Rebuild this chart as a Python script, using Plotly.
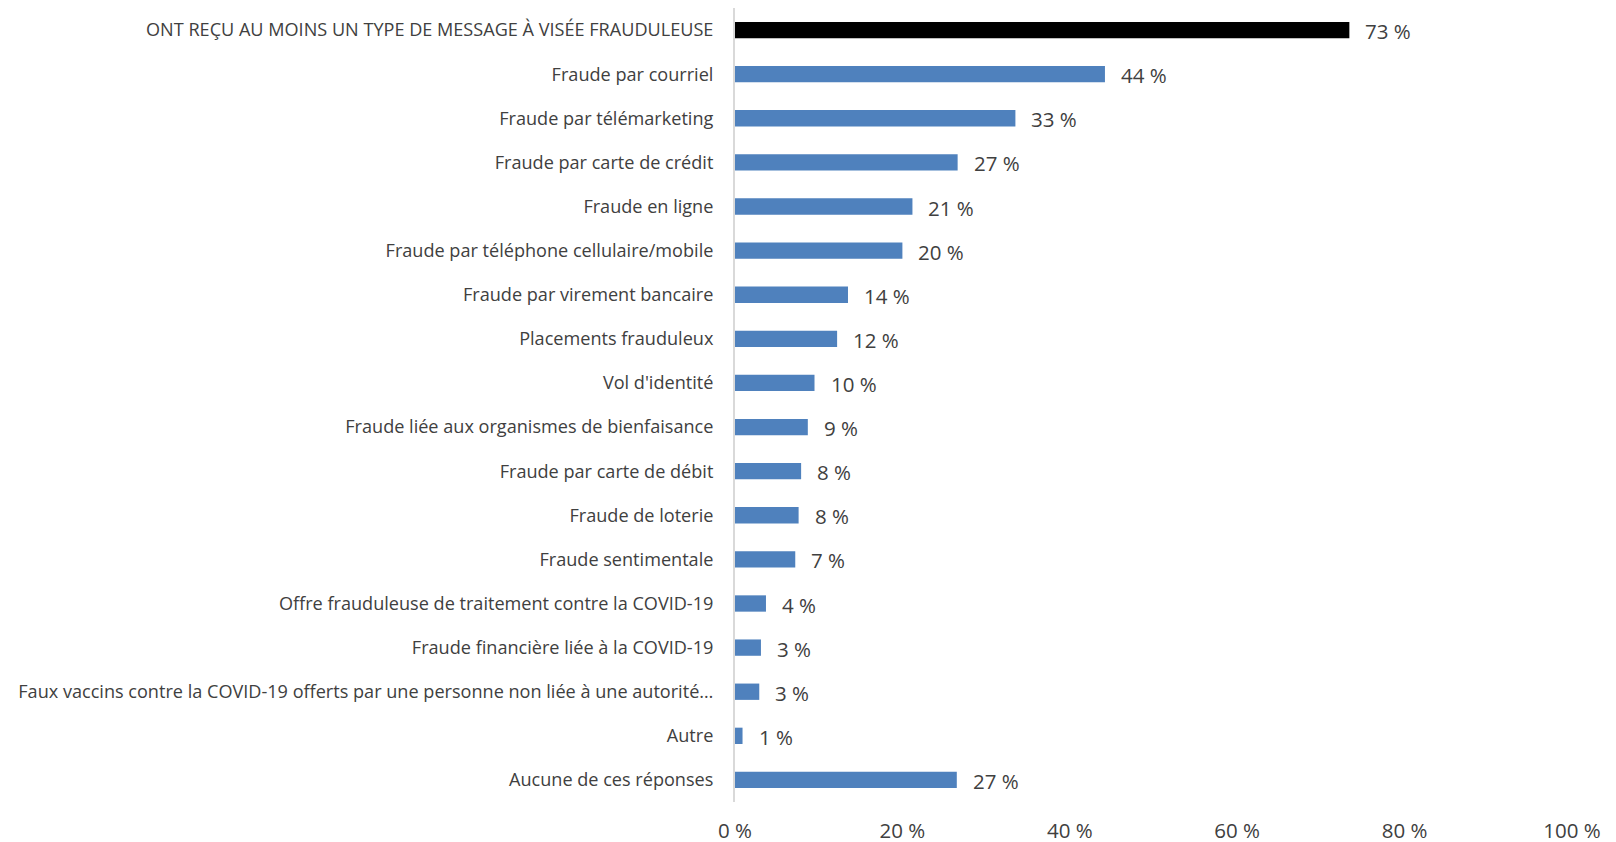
import plotly.graph_objects as go

categories = [
    "ONT REÇU AU MOINS UN TYPE DE MESSAGE À VISÉE FRAUDULEUSE",
    "Fraude par courriel",
    "Fraude par télémarketing",
    "Fraude par carte de crédit",
    "Fraude en ligne",
    "Fraude par téléphone cellulaire/mobile",
    "Fraude par virement bancaire",
    "Placements frauduleux",
    "Vol d'identité",
    "Fraude liée aux organismes de bienfaisance",
    "Fraude par carte de débit",
    "Fraude de loterie",
    "Fraude sentimentale",
    "Offre frauduleuse de traitement contre la COVID-19",
    "Fraude financière liée à la COVID-19",
    "Faux vaccins contre la COVID-19 offerts par une personne non liée à une autorité…",
    "Autre",
    "Aucune de ces réponses",
]
values = [73.4, 44.2, 33.5, 26.6, 21.2, 20.0, 13.5, 12.2, 9.5, 8.7, 7.9, 7.6, 7.2, 3.7, 3.1, 2.9, 0.9, 26.5]
labels = ["73 %", "44 %", "33 %", "27 %", "21 %", "20 %", "14 %", "12 %", "10 %", "9 %", "8 %", "8 %",
          "7 %", "4 %", "3 %", "3 %", "1 %", "27 %"]
tick_vals = [0, 20, 40, 60, 80, 100]
tick_text = ["0 %", "20 %", "40 %", "60 %", "80 %", "100 %"]

colors = ["#000000"] + ["#4F81BD"] * (len(categories) - 1)
text_color = "#404040"
font_family = "Open Sans"

fig = go.Figure()
fig.add_trace(go.Bar(
    x=values,
    y=categories,
    orientation="h",
    marker=dict(color=colors, line=dict(width=0)),
    hoverinfo="skip",
))

for v, c, t in zip(values, categories, labels):
    fig.add_annotation(
        x=v, y=c, text=t, xanchor="left", yanchor="middle",
        xshift=14, yshift=-1, showarrow=False,
        font=dict(family=font_family, size=20.5, color=text_color),
    )

fig.update_layout(
    width=1616, height=842,
    margin=dict(l=727, r=52, t=0, b=48),
    paper_bgcolor="white", plot_bgcolor="white",
    bargap=0.63,
    showlegend=False,
    font=dict(family=font_family, color=text_color),
)
fig.update_xaxes(
    range=[0, 100],
    tickvals=tick_vals, ticktext=tick_text,
    showgrid=False, zeroline=False, showline=False,
    ticks="outside", ticklen=10, tickcolor="rgba(0,0,0,0)",
    tickfont=dict(family=font_family, size=20.5, color=text_color),
    automargin=False,
    fixedrange=True,
)
fig.update_yaxes(
    categoryorder="array", categoryarray=categories,
    autorange="reversed",
    showgrid=False, zeroline=False,
    showline=True, linecolor="#D9D9D9", linewidth=2,
    ticks="outside", ticklen=16, tickcolor="rgba(0,0,0,0)",
    tickfont=dict(family=font_family, size=18.1, color=text_color),
    automargin=False,
    fixedrange=True,
)

fig.write_html("out.html")
